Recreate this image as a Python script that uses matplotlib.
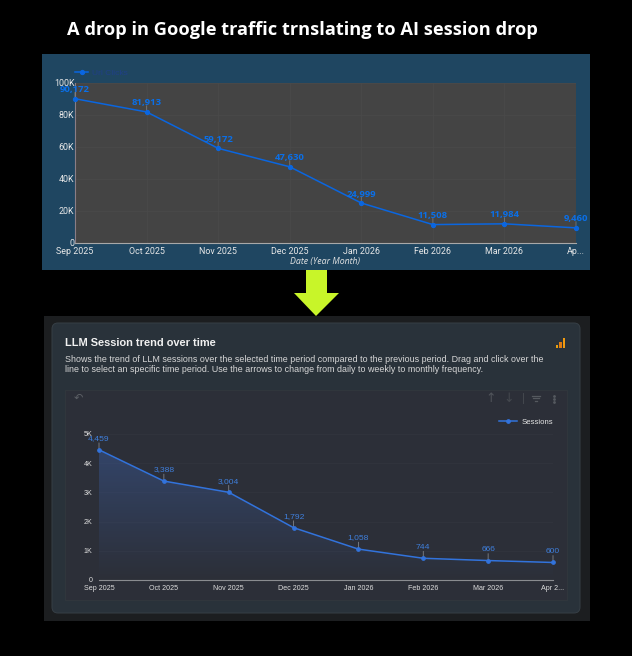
import matplotlib
matplotlib.use("Agg")
import numpy as np
import matplotlib.pyplot as plt
from matplotlib.patches import Rectangle, FancyBboxPatch, Polygon

W, H = 632, 656

# top chart data
months_top = ['Sep 2025', 'Oct 2025', 'Nov 2025', 'Dec 2025', 'Jan 2026', 'Feb 2026', 'Mar 2026', 'Ap...']
url_clicks = [90172, 81913, 59172, 47630, 24999, 11508, 11984, 9460]
yticks_top = [0, 20000, 40000, 60000, 80000, 100000]
ylabels_top = ['0', '20K', '40K', '60K', '80K', '100K']

# bottom chart data
months_bot = ['Sep 2025', 'Oct 2025', 'Nov 2025', 'Dec 2025', 'Jan 2026', 'Feb 2026', 'Mar 2026', 'Apr 2...']
sessions = [4459, 3388, 3004, 1792, 1058, 744, 666, 600]
yticks_bot = [0, 1000, 2000, 3000, 4000, 5000]
ylabels_bot = ['0', '1K', '2K', '3K', '4K', '5K']

plt.rcParams['font.family'] = ['Liberation Sans', 'DejaVu Sans']

fig = plt.figure(figsize=(W / 100, H / 100), dpi=100, facecolor='black')

# background layer in pixel coordinates, y going down
bg = fig.add_axes([0, 0, 1, 1], zorder=0)
bg.set_xlim(0, W)
bg.set_ylim(H, 0)
bg.axis('off')


def axes_px(x0, y0, x1, y1):
    # y0 is the top edge, y1 the bottom edge, in image pixels
    return fig.add_axes([x0 / W, 1 - y1 / H, (x1 - x0) / W, (y1 - y0) / H], zorder=2)


bg.text(67, 30, 'A drop in Google traffic trnslating to AI session drop', color='white',
        fontsize=13.15, fontweight='bold', family='Open Sans', va='center', ha='left')

# top panel
bg.add_patch(Rectangle((42, 54), 548, 216, fc='#1f4661', ec='none'))

# arrow between the panels
bg.add_patch(Polygon([(306, 270), (327, 270), (327, 293), (339, 293), (316, 316), (294, 293), (306, 293)],
                     fc='#c8f529', ec='none'))

# bottom panel
bg.add_patch(Rectangle((44, 316), 546, 305, fc='#1c1e20', ec='none'))
bg.add_patch(FancyBboxPatch((55, 326), 522, 284, boxstyle='round,pad=3,rounding_size=6',
                            fc='#29323a', ec='#373f46', lw=0.7))
bg.add_patch(Rectangle((65, 390), 502, 210, fc='#2c2f38', ec='#31373d', lw=0.7))

bg.text(65, 342.5, 'LLM Session trend over time', color='#f0f0f0', fontsize=7.9, fontweight='bold', va='center')
bg.text(65, 359, 'Shows the trend of LLM sessions over the selected time period compared to the previous period. Drag and click over the',
        color='#d8d8d8', fontsize=6.39, va='center')
bg.text(65, 369.5, 'line to select an specific time period. Use the arrows to change from daily to weekly to monthly frequency.',
        color='#d8d8d8', fontsize=6.39, va='center')

# little analytics icon
bg.add_patch(Rectangle((555.5, 345), 2.5, 3, fc='#e8a010', ec='none'))
bg.add_patch(Rectangle((559, 341.5), 2.5, 6.5, fc='#e07b10', ec='none'))
bg.add_patch(Rectangle((562.5, 338), 2.5, 10, fc='#f09a10', ec='none'))

# toolbar icons of the inner chart
bg.text(78, 398, '↶', color='#5c6066', fontsize=8, va='center', ha='center', family='DejaVu Sans')
bg.text(491, 398, '↑', color='#50545a', fontsize=9, va='center', ha='center', family='DejaVu Sans')
bg.text(509, 398, '↓', color='#44484e', fontsize=9, va='center', ha='center', family='DejaVu Sans')
bg.plot([522.5, 522.5], [393, 403], color='#44484e', lw=0.7)
for yy, half in [(395.5, 4), (398, 2.6), (400.5, 1.2)]:
    bg.plot([536 - half, 536 + half], [yy, yy], color='#55595f', lw=0.9)
bg.plot([553.5] * 3, [395.5, 398.5, 401.5], ls='none', marker='o', ms=1, color='#55595f')

# upper chart
ax1 = axes_px(75, 83, 576, 243)
ax1.set_facecolor('#444444')
x1 = np.arange(len(months_top))
ax1.plot(x1, url_clicks, color='#0a66e0', lw=1.1, marker='o', ms=2.8, clip_on=False, zorder=4)
ax1.set_xlim(0, len(months_top) - 1)
ax1.set_ylim(0, 100000)
ax1.set_yticks(yticks_top)
ax1.set_yticklabels(ylabels_top)
ax1.set_xticks(x1)
ax1.set_xticklabels(months_top, va='baseline')
ax1.tick_params(length=0, colors='#e8e8e8', labelsize=6.4)
ax1.tick_params(axis='x', pad=7.8)
ax1.tick_params(axis='y', pad=0.5)
for lab in ax1.get_xticklabels() + ax1.get_yticklabels():
    lab.set_family('Roboto')
ax1.grid(True, color='#4a4a4a', lw=0.5)
ax1.set_axisbelow(True)
for s in ['top', 'right']:
    ax1.spines[s].set_visible(False)
ax1.spines['bottom'].set_color('#a8a8a8')
ax1.spines['left'].set_color('#8a7d86')
for xx, val in zip(x1, url_clicks):
    ax1.annotate(f'{val:,}', (xx, val), xytext=(0, 3.2), textcoords='offset points', color='#0a6fe8',
                 fontsize=6.8, ha='center', va='bottom', family='Open Sans', fontweight='bold',
                 annotation_clip=False, zorder=6)
    ax1.annotate('', (xx, val), xytext=(0, 4.5), textcoords='offset points', annotation_clip=False,
                 arrowprops=dict(arrowstyle='-', color='#777777', lw=0.6, shrinkA=0, shrinkB=0))
ax1.set_xlabel('Date (Year Month)', color='#e4e4e4', fontsize=6.3, style='italic', family='Open Sans', labelpad=0.5)
# legend sits above the plot, dark blue on blue
ax1.legend([ax1.lines[0]], ['Url Clicks'], loc='center left', bbox_to_anchor=(0, 1.0625), frameon=False, fontsize=6.0,
           labelcolor='#1f4088', handlelength=1.56, handletextpad=0.48, borderpad=0, borderaxespad=0)

# lower chart
ax2 = axes_px(99, 434, 553, 580)
ax2.patch.set_alpha(0)
x2 = np.arange(len(months_bot))
ax2.plot(x2, sessions, color='#3273dc', lw=1.1, marker='o', ms=2.4, clip_on=False, zorder=4, label='Sessions')
# area under the line, fading towards the axis
grad = np.linspace(0, 1, 256).reshape(-1, 1)
cmap = matplotlib.colors.LinearSegmentedColormap.from_list('fade', [(0.22, 0.33, 0.55, 0.65), (0.22, 0.33, 0.55, 0.0)])
im = ax2.imshow(grad, cmap=cmap, extent=[0, len(months_bot) - 1, 0, 5000], aspect='auto', origin='upper', zorder=1)
clip = ax2.fill_between(x2, sessions, 0, color='none')
im.set_clip_path(clip.get_paths()[0], transform=ax2.transData)
ax2.set_xlim(0, len(months_bot) - 1)
ax2.set_ylim(0, 5000)
ax2.set_yticks(yticks_bot)
ax2.set_yticklabels(ylabels_bot)
ax2.set_xticks(x2)
ax2.set_xticklabels(months_bot, va='baseline')
ax2.tick_params(length=0, colors='#dedede', labelsize=5.1)
ax2.tick_params(axis='x', pad=7.5)
ax2.tick_params(axis='y', pad=4.5)
ax2.grid(True, axis='y', color='#33363f', lw=0.5)
ax2.set_axisbelow(True)
for s in ['top', 'right', 'left']:
    ax2.spines[s].set_visible(False)
ax2.spines['bottom'].set_color('#8a8c90')
for xx, val in zip(x2, sessions):
    ax2.annotate(f'{val:,}', (xx, val), xytext=(0, 5.5), textcoords='offset points', color='#3f7fdc',
                 fontsize=6.1, ha='center', va='bottom', annotation_clip=False, zorder=6)
    ax2.annotate('', (xx, val), xytext=(0, 5), textcoords='offset points', annotation_clip=False,
                 arrowprops=dict(arrowstyle='-', color='#80848a', lw=0.6, shrinkA=0, shrinkB=0))
ax2.legend(loc='center right', bbox_to_anchor=(1.0, 1.08), frameon=False, fontsize=5.6, labelcolor='#e4e4e4',
           handlelength=2.4, handletextpad=0.5, borderpad=0, borderaxespad=0)

fig.savefig('out.png', dpi=100, facecolor='black')
